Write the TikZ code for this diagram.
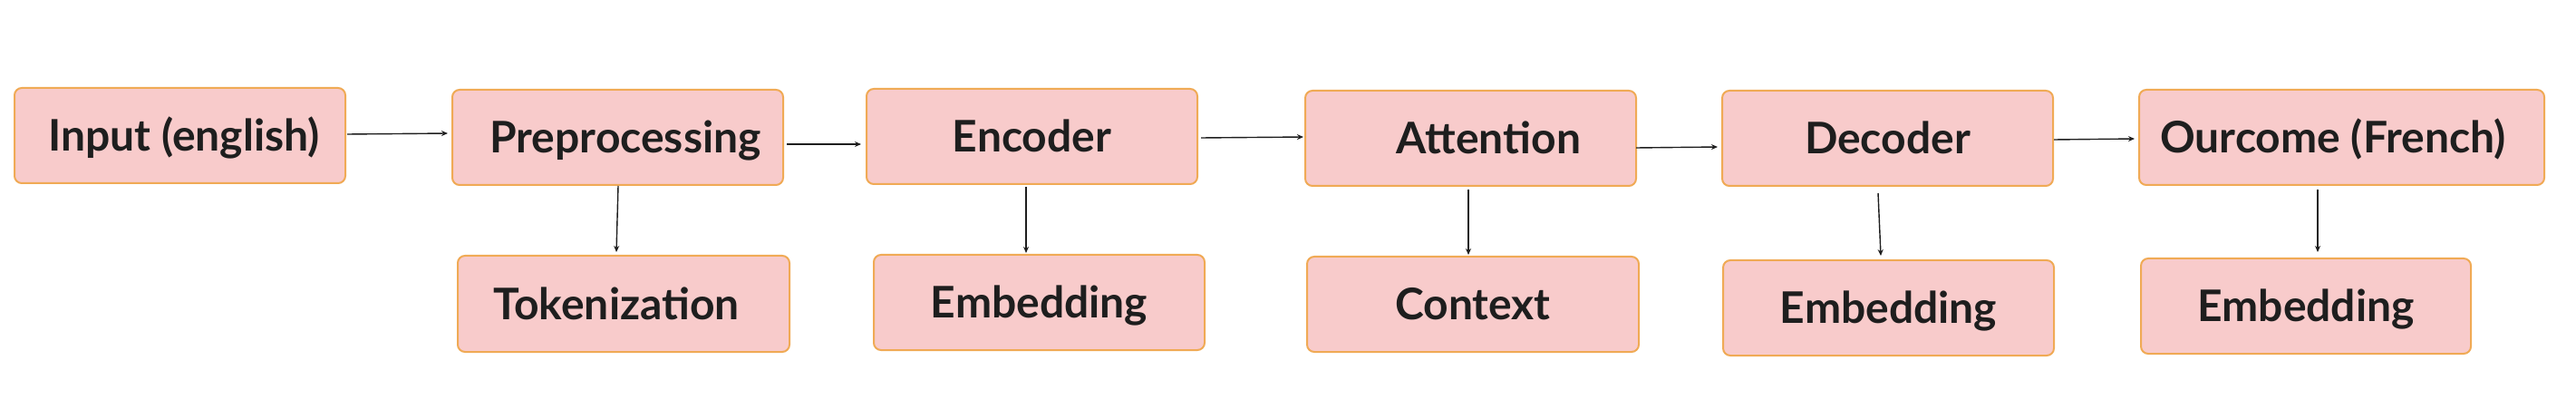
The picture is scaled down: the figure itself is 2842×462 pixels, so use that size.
\documentclass[tikz,border=0pt]{standalone}
\usepackage{fontspec}
\setmainfont{Lato}
\usetikzlibrary{arrows.meta}
\definecolor{boxfill}{RGB}{248,203,203}
\definecolor{boxline}{RGB}{240,170,85}
\definecolor{ink}{RGB}{30,30,30}
\begin{document}
\begin{tikzpicture}[x=1pt,y=-1pt,
  box/.style={draw=boxline,fill=boxfill,line width=2pt,rounded corners=8pt,
    minimum width=365pt,minimum height=105pt,outer sep=0pt,inner sep=0pt},
  lbl/.style={inner sep=0pt,outer sep=0pt,text height=34pt,text depth=0pt,
    font=\fontsize{48}{55}\selectfont\bfseries,text=ink},
  arr/.style={draw=ink,line width=1.4pt,-{Stealth[length=7pt,width=6pt]}}]
\useasboundingbox (0,0) rectangle (2842,462);
\fill[white] (0,0) rectangle (2842,462);
% top row
\node[box,label={[lbl,xshift=4.5pt]center:Input (english)}] (input) at (198.5,149.5) {};
\node[box,label={[lbl,xshift=8.5pt]center:Preprocessing}] (prep) at (681.5,151.5) {};
\node[box,label={[lbl]center:Encoder}] (enc) at (1138.5,150.5) {};
\node[box,label={[lbl,xshift=20pt]center:Attention}] (att) at (1622.5,152.5) {};
\node[box,label={[lbl]center:Decoder}] (dec) at (2082.5,152.5) {};
\node[box,minimum width=447pt,label={[lbl,xshift=-9.5pt]center:Ourcome (French)}] (out) at (2583.5,151.5) {};
% bottom row
\node[box,minimum width=366pt,minimum height=106pt,label={[lbl,xshift=-8pt]center:Tokenization}] (tok) at (688,335) {};
\node[box,label={[lbl]center:Embedding}] (emb1) at (1146.5,333.5) {};
\node[box,minimum width=366pt,label={[lbl]center:Context}] (ctx) at (1625,335.5) {};
\node[box,label={[lbl]center:Embedding}] (emb2) at (2083.5,339.5) {};
\node[box,minimum width=364pt,label={[lbl]center:Embedding}] (emb3) at (2544,337.5) {};
% connectors
\draw[arr] ([xshift=2pt,yshift=1.5pt]input.east) -- ([xshift=-5pt,yshift=4.5pt]prep.west);
\draw[arr] ([xshift=0.5pt,yshift=-1pt]prep.south) -- ([xshift=-8pt,yshift=4pt]tok.north);
\draw[arr] ([xshift=4pt,yshift=-7.5pt]prep.east) -- ([xshift=-6pt,yshift=-8.5pt]enc.west);
\draw[arr] ([xshift=-6.5pt,yshift=-3pt]enc.south) -- ([xshift=-14.5pt,yshift=2pt]emb1.north);
\draw[arr] ([xshift=4pt,yshift=-1.5pt]enc.east) -- ([xshift=-2pt,yshift=1.5pt]att.west);
\draw[arr] ([xshift=-2.5pt,yshift=-4pt]att.south) -- ([xshift=-5pt,yshift=2pt]ctx.north);
\draw[arr] ([yshift=-10.5pt]att.east) -- ([xshift=-5pt,yshift=-9.5pt]dec.west);
\draw[arr] ([xshift=-10.5pt,yshift=-8pt]dec.south) -- ([xshift=-8.5pt,yshift=5pt]emb2.north);
\draw[arr] ([xshift=1pt,yshift=-1.5pt]dec.east) -- ([xshift=-5pt,yshift=-1.5pt]out.west);
\draw[arr] ([xshift=-26.5pt,yshift=-5pt]out.south) -- ([xshift=13pt,yshift=7pt]emb3.north);
\end{tikzpicture}
\end{document}
